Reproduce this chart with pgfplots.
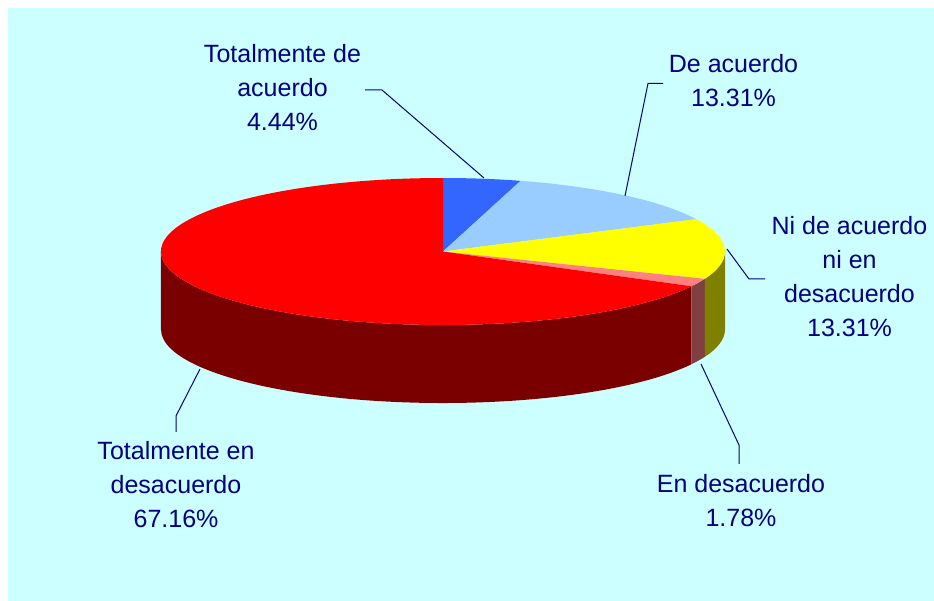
\documentclass[border=0pt]{standalone}
\usepackage{pgfplots}
\pgfplotsset{compat=1.18}
\usepackage{fontspec}
\setmainfont{Liberation Sans}
\definecolor{bg}{HTML}{CCFFFF}
\definecolor{navy}{HTML}{000080}
\definecolor{cA}{HTML}{3366FF}
\definecolor{cB}{HTML}{99CCFF}
\definecolor{cC}{HTML}{FFFF00}
\definecolor{cD}{HTML}{FF8080}
\definecolor{cE}{HTML}{FF0000}
\definecolor{sC}{HTML}{808000}
\definecolor{sD}{HTML}{804040}
\definecolor{sE}{HTML}{7A0000}
\begin{document}
\begin{tikzpicture}
% data (percent)
\def\vA{4.44}\def\vB{13.31}\def\vC{13.31}\def\vD{1.78}\def\vE{67.16}
\pgfmathsetmacro{\aA}{90}
\pgfmathsetmacro{\aB}{\aA-\vA*3.6}
\pgfmathsetmacro{\aC}{\aB-\vB*3.6}
\pgfmathsetmacro{\aD}{\aC-\vC*3.6}
\pgfmathsetmacro{\aE}{\aD-\vD*3.6}
\pgfmathsetmacro{\aF}{\aE-\vE*3.6}
\tikzset{er/.style={x radius=282bp,y radius=73.5bp},
  lbl/.style={font=\fontsize{25bp}{34bp}\selectfont,text=navy,align=center,inner sep=0pt}}
\begin{axis}[x=1bp,y=1bp,xmin=0,xmax=934,ymin=0,ymax=601,hide axis,clip=false,anchor=origin,at={(0,0)}]
\fill[bg] (axis cs:8,0) rectangle (axis cs:934,593);
% sides
\fill[sE] (axis cs:443,349.5) ++(-180:282bp and 73.5bp) arc[start angle=-180,end angle=\aE,er] -- ++(0,-78bp) arc[start angle=\aE,end angle=-180,er] -- cycle;
\fill[sD] (axis cs:443,349.5) ++(\aE:282bp and 73.5bp) arc[start angle=\aE,end angle=\aD,er] -- ++(0,-78bp) arc[start angle=\aD,end angle=\aE,er] -- cycle;
\fill[sC] (axis cs:443,349.5) ++(\aD:282bp and 73.5bp) arc[start angle=\aD,end angle=0,er] -- ++(0,-78bp) arc[start angle=0,end angle=\aD,er] -- cycle;
% tops
\fill[cA] (axis cs:443,349.5) -- ++(\aA:282bp and 73.5bp) arc[start angle=\aA,end angle=\aB,er] -- cycle;
\fill[cB] (axis cs:443,349.5) -- ++(\aB:282bp and 73.5bp) arc[start angle=\aB,end angle=\aC,er] -- cycle;
\fill[cC] (axis cs:443,349.5) -- ++(\aC:282bp and 73.5bp) arc[start angle=\aC,end angle=\aD,er] -- cycle;
\fill[cD] (axis cs:443,349.5) -- ++(\aD:282bp and 73.5bp) arc[start angle=\aD,end angle=\aE,er] -- cycle;
\fill[cE] (axis cs:443,349.5) -- ++(\aE:282bp and 73.5bp) arc[start angle=\aE,end angle=\aF,er] -- cycle;
% leader lines
\draw[navy,line width=1bp] (axis cs:365,511) -- (axis cs:382,511) -- (axis cs:484,423);
\draw[navy,line width=1bp] (axis cs:663,517.5) -- (axis cs:648,517.5) -- (axis cs:625,405);
\draw[navy,line width=1bp] (axis cs:727,352) -- (axis cs:749,322) -- (axis cs:765,322);
\draw[navy,line width=1bp] (axis cs:701,237) -- (axis cs:739,156) -- (axis cs:739,137);
\draw[navy,line width=1bp] (axis cs:200,232) -- (axis cs:176,185) -- (axis cs:176,169);
% labels
\node[lbl] at (axis cs:282.5,513) {Totalmente de\\acuerdo\\4.44\%};
\node[lbl] at (axis cs:733.5,520) {De acuerdo\\13.31\%};
\node[lbl] at (axis cs:849.5,324) {Ni de acuerdo\\ni en\\desacuerdo\\13.31\%};
\node[lbl] at (axis cs:741,100) {En desacuerdo\\1.78\%};
\node[lbl] at (axis cs:176,116) {Totalmente en\\desacuerdo\\67.16\%};
\end{axis}
\pgfresetboundingbox
\path[use as bounding box] (0,0) rectangle (934bp,601bp);
\end{tikzpicture}
\end{document}
